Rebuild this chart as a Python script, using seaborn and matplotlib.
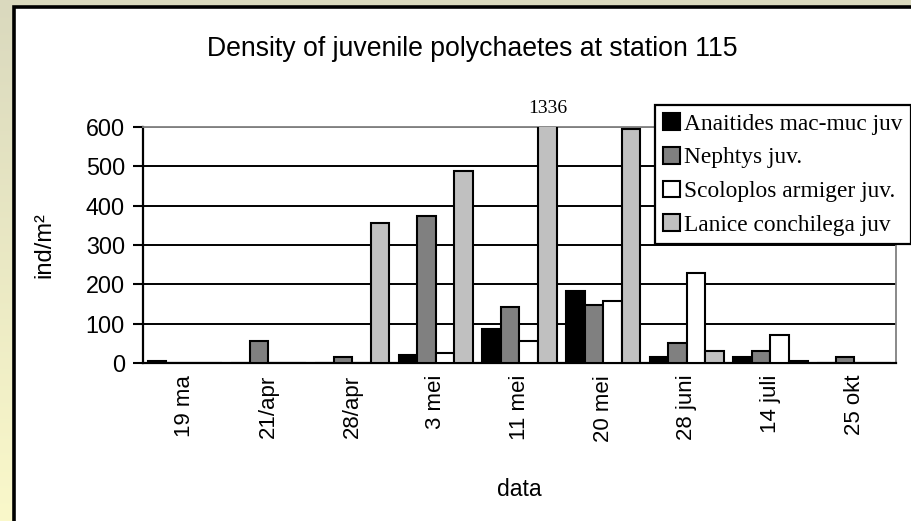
import numpy as np
import pandas as pd
import matplotlib
matplotlib.use("Agg")
import matplotlib.pyplot as plt
from matplotlib.patches import Rectangle
import seaborn as sns

# Sampling dates and juvenile densities (ind/m²) per species
dates = ["19 ma", "21/apr", "28/apr", "3 mei", "11 mei", "20 mei", "28 juni", "14 juli", "25 okt"]
species = ["Anaitides mac-muc juv", "Nephtys juv.", "Scoloplos armiger juv.", "Lanice conchilega juv"]
anaitides = [5, 0, 0, 20, 87, 183, 16, 16, 0]
nephtys = [0, 55, 15, 375, 143, 147, 51, 30, 15]
scoloplos = [0, 0, 0, 25, 55, 158, 229, 71, 0]
lanice = [0, 0, 355, 488, 1336, 595, 30, 5, 0]
y_ticks = [0, 100, 200, 300, 400, 500, 600]
colors = ["#000000", "#808080", "#FFFFFF", "#C0C0C0"]

df = pd.DataFrame({
    "data": dates * 4,
    "species": np.repeat(species, len(dates)),
    "density": anaitides + nephtys + scoloplos + lanice,
})

sns.set_theme(style="white")
plt.rcParams["font.family"] = ["Liberation Sans", "DejaVu Sans"]
plt.rcParams["text.color"] = "black"
plt.rcParams["axes.labelcolor"] = "black"
plt.rcParams["xtick.color"] = "black"
plt.rcParams["ytick.color"] = "black"

W, H = 912, 521
fig = plt.figure(figsize=(W / 100, H / 100), dpi=100)

# gradient backdrop and white panel with black frame
bg = fig.add_axes([0, 0, 1, 1], zorder=-3)
grad = np.linspace(0, 1, 256)[:, None]
top_c = np.array([218, 217, 190]) / 255
bot_c = np.array([250, 248, 202]) / 255
img = top_c[None, None, :] * (1 - grad[:, :, None]) + bot_c[None, None, :] * grad[:, :, None]
bg.imshow(img, aspect="auto", extent=[0, 1, 0, 1])
bg.set_axis_off()
panel = Rectangle((14 / W, -0.1), 1.2, 1 - 7 / H + 0.1, transform=fig.transFigure,
                  facecolor="white", edgecolor="black", linewidth=2.6, zorder=-2)
fig.add_artist(panel)

ax = fig.add_axes([143 / W, 158 / H, 753 / W, 236 / H], zorder=1)
ax.set_facecolor("white")

sns.barplot(data=df, x="data", y="density", hue="species", order=dates, hue_order=species,
            palette=colors, width=0.89, edgecolor="black", linewidth=1.5, saturation=1,
            legend=True, ax=ax, zorder=3)

ax.set_ylim(0, 600)
ax.set_xlim(-0.5, len(dates) - 0.5)
ax.set_yticks(y_ticks)
ax.set_yticklabels([str(v) for v in y_ticks], fontsize=16.8)
ax.set_xticks(range(len(dates)))
ax.set_xticklabels(dates, rotation=90, fontsize=16, va="top", ha="center")
ax.set_xticks(np.arange(-0.5, len(dates)), minor=True)
ax.tick_params(axis="x", which="major", length=0, pad=8.5)
ax.tick_params(axis="x", which="minor", length=7, width=1.5, color="black", direction="out")
ax.tick_params(axis="y", length=7, width=1.5, color="black", direction="out", pad=6, left=True)

ax.grid(axis="y", color="black", linewidth=1.4, zorder=0)
ax.set_axisbelow(True)
gl = ax.get_ygridlines()
gl[-1].set_color("#808080")
gl[0].set_visible(False)

for side in ["left", "bottom"]:
    ax.spines[side].set_color("black")
    ax.spines[side].set_linewidth(1.6)
for side in ["top", "right"]:
    ax.spines[side].set_color("#808080")
    ax.spines[side].set_linewidth(1.3)

ax.set_xlabel("data", fontsize=16.5, labelpad=26)
ax.set_ylabel("ind/m²", fontsize=17, labelpad=22)

# value of the Lanice bar on 11 mei, which runs off the scale
idx = dates.index("11 mei")
bar_w = 0.89 / 4
ax.annotate(str(lanice[idx]), xy=(idx + 1.5 * bar_w, 600), xytext=(0, 13),
            textcoords="offset points", ha="center", va="center",
            fontsize=14, family=["Liberation Serif"], annotation_clip=False)

fig.text(472 / W, 1 - 49 / H, "Density of juvenile polychaetes at station 115",
         ha="center", va="center", fontsize=19.2)

handles, labels = ax.get_legend_handles_labels()
ax.get_legend().remove()
leg = fig.legend(handles, labels, loc="upper left", bbox_to_anchor=(655 / W, 1 - 105 / H),
                 frameon=True, fancybox=False, shadow=False, framealpha=1,
                 prop={"family": "Liberation Serif", "size": 16.8},
                 handlelength=0.72, handleheight=0.72, handletextpad=0.15,
                 labelspacing=0.52, borderpad=0.36, borderaxespad=0)
leg.get_frame().set_edgecolor("black")
leg.get_frame().set_linewidth(1.6)
leg.set_zorder(5)

fig.savefig("out.png", dpi=100)
